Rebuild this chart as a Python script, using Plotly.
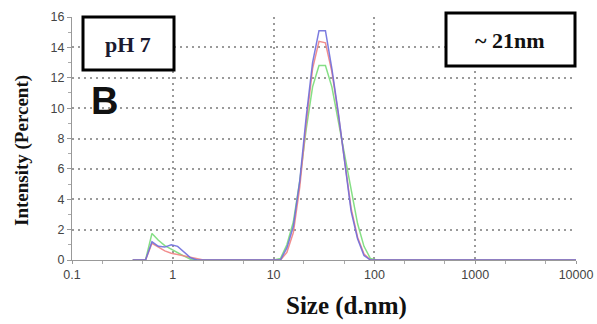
import plotly.graph_objects as go

sizes = [0.4, 0.4632, 0.5365, 0.6213, 0.7195, 0.8332, 0.9649, 1.117, 1.294, 1.499,
         1.736, 2.01, 2.328, 2.696, 3.122, 3.615, 4.187, 4.849, 5.615, 6.503,
         7.531, 8.721, 10.1, 11.7, 13.54, 15.69, 18.17, 21.04, 24.36, 28.21,
         32.67, 37.84, 43.82, 50.75, 58.77, 68.06, 78.82, 91.28, 105.7, 122.4,
         141.8, 164.2, 190.1, 220.2, 255.0, 295.3, 342.0, 396.1, 458.7, 531.2,
         615.1, 712.4, 825.0, 955.4, 1106, 1281, 1484, 1718, 1990, 2305,
         2669, 3091, 3580, 4145, 4801, 5560, 6439, 7456, 8635, 10000]

run_green = [0, 0, 0, 1.75, 1.3, 0.95, 0.7, 0.45, 0.25, 0.05,
             0, 0, 0, 0, 0, 0, 0, 0, 0, 0,
             0, 0, 0, 0.1, 1.0, 2.5, 5.2, 8.6, 11.4, 12.8,
             12.8, 11.4, 9.2, 7.0, 4.6, 2.4, 0.9, 0.1, 0, 0,
             0, 0, 0, 0, 0, 0, 0, 0, 0, 0,
             0, 0, 0, 0, 0, 0, 0, 0, 0, 0,
             0, 0, 0, 0, 0, 0, 0, 0, 0, 0]

run_red = [0, 0, 0, 1.1, 0.85, 0.6, 0.45, 0.35, 0.3, 0.2,
           0.1, 0, 0, 0, 0, 0, 0, 0, 0, 0,
           0, 0, 0, 0, 0.5, 1.8, 4.8, 9.0, 12.6, 14.4,
           14.3, 12.4, 9.6, 6.5, 3.4, 1.5, 0.4, 0, 0, 0,
           0, 0, 0, 0, 0, 0, 0, 0, 0, 0,
           0, 0, 0, 0, 0, 0, 0, 0, 0, 0,
           0, 0, 0, 0, 0, 0, 0, 0, 0, 0]

run_blue = [0, 0, 0, 1.2, 0.9, 0.85, 1.0, 0.9, 0.5, 0.15,
            0, 0, 0, 0, 0, 0, 0, 0, 0, 0,
            0, 0, 0, 0, 0.8, 2.2, 5.2, 9.4, 13.0, 15.1,
            15.1, 12.6, 9.7, 6.3, 3.2, 1.4, 0.3, 0, 0, 0,
            0, 0, 0, 0, 0, 0, 0, 0, 0, 0,
            0, 0, 0, 0, 0, 0, 0, 0, 0, 0,
            0, 0, 0, 0, 0, 0, 0, 0, 0, 0]

x_tickvals = [0.1, 1, 10, 100, 1000, 10000]
x_ticktext = ["0.1", "1", "10", "100", "1000", "10000"]
y_tickvals = [0, 2, 4, 6, 8, 10, 12, 14, 16]

fig = go.Figure()
for ys, col in [(run_green, "rgba(120,220,120,0.9)"),
                (run_red, "rgba(240,130,130,0.9)"),
                (run_blue, "rgba(110,110,220,0.9)")]:
    fig.add_trace(go.Scatter(x=sizes, y=ys, mode="lines",
                             line=dict(color=col, width=1.5), showlegend=False))

grid = dict(showgrid=True, gridcolor="#9a9a9a", griddash="2px,4px", gridwidth=1.5)

fig.update_layout(
    width=597, height=324,
    margin=dict(l=72, r=21, t=17, b=64, autoexpand=False),
    paper_bgcolor="white", plot_bgcolor="white",
    font=dict(family="Liberation Sans, Arial", size=12, color="#444"),
    xaxis=dict(type="log", range=[-1, 4], tickvals=x_tickvals, ticktext=x_ticktext,
               automargin=False,
               ticks="outside", ticklen=3, tickcolor="#999",
               minor=dict(ticks="outside", ticklen=3, tickcolor="#aaa", showgrid=False),
               showline=True, linecolor="#999", linewidth=1, zeroline=False,
               tickfont=dict(size=12.5, color="#444"), **grid),
    yaxis=dict(range=[0, 16], tickvals=y_tickvals, ticks="outside", ticklen=4,
               tickcolor="#999", automargin=False,
               minor=dict(dtick=1, ticks="outside", ticklen=3, tickcolor="#aaa", showgrid=False),
               showline=True, linecolor="#999", linewidth=1, zeroline=False,
               tickfont=dict(size=12.5, color="#444"), **grid),
)

serif = "Liberation Serif, Times New Roman"


def px_x(px):
    return (px - 72) / 504


def px_y(py):
    return (260 - py) / 243


def label(text, x, y, size, family, color="#111", angle=0):
    fig.add_annotation(text=text, xref="paper", yref="paper", x=px_x(x), y=px_y(y),
                       xanchor="center", yanchor="middle", textangle=angle,
                       showarrow=False, font=dict(family=family, size=size, color=color))


label("<b>Intensity (Percent)</b>", 22, 151, 19, serif, angle=-90)
label("<b>Size (d.nm)</b>", 346, 306, 25, serif)

fig.add_shape(type="rect", xref="paper", yref="paper",
              x0=px_x(83), x1=px_x(174), y0=px_y(70), y1=px_y(17),
              line=dict(color="black", width=3), fillcolor="white")
label("<b>pH 7</b>", 128, 44, 22, serif, color="#1a1a30")
fig.add_shape(type="rect", xref="paper", yref="paper",
              x0=px_x(446), x1=px_x(575), y0=px_y(66), y1=px_y(13),
              line=dict(color="black", width=3), fillcolor="white")
label("<b>~ 21nm</b>", 510, 40, 22, serif)
label("<b>B</b>", 104, 101, 38, "Liberation Sans, Arial")

fig.write_html("out.html", config={"displayModeBar": False},
               post_script="document.body.style.margin='0';document.body.style.overflow='hidden';")
